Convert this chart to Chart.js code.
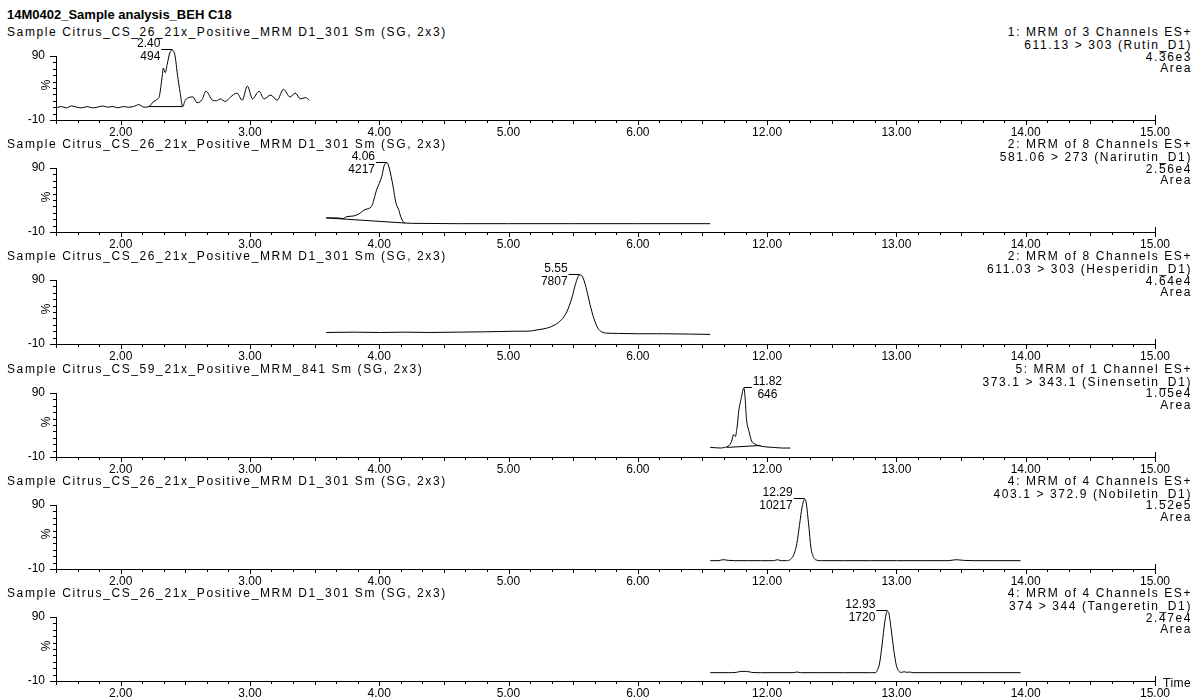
<!DOCTYPE html>
<html>
<head>
<meta charset="utf-8">
<script src="https://cdn.jsdelivr.net/npm/chart.js@4.4.1/dist/chart.umd.min.js"></script>
<style>
html, body { margin: 0; padding: 0; background: #fff; }
#page { position: relative; width: 1200px; height: 697px; overflow: hidden;
        font-family: "Liberation Sans", Arial, sans-serif; color: #000; }
.txt { position: absolute; white-space: nowrap; font-size: 12px; line-height: 12px; letter-spacing: 1.6px; }
.right { text-align: right; }
.title { position: absolute; left: 7px; top: 8px; font-size: 13px; line-height: 13px; font-weight: bold; white-space: nowrap; }
.panel { position: absolute; left: 0; width: 1200px; height: 124px; }
</style>
</head>
<body>
<div id="page"></div>
<script>
// Chromatogram traces, time in minutes, signal in %
const rutinTime = [1.50,1.54,1.58,1.62,1.66,1.70,1.74,1.78,1.82,1.86,1.90,1.94,1.98,2.02,2.06,2.10,2.14,2.18,2.22,
    2.25,2.28,2.30,2.32,2.33,2.345,2.36,2.38,2.40,2.42,2.44,2.46,2.48,
    2.50,2.56,2.59,2.63,2.66,2.71,2.74,2.77,2.81,2.85,2.90,2.94,2.98,3.02,3.07,3.11,3.16,3.21,3.26,3.31,3.35,3.39,3.43,3.46];
const rutinSignal = [9,11,9,12,10,9,11,9,10,12,10,11,9,11,10,11,14,10,11,
    18,22,28,56,71,64,77,95,99,91,60,33,11,
    21,26,17,22,35,21,20,23,19,26,32,21,43,23,35,23,29,21,38,26,32,23,25,21];
const rutinBaseTime = [2.22, 2.48];
const rutinBaseSignal = [11, 11];

const narirutinTime = [3.59,3.68,3.72,3.75,3.80,3.84,3.89,3.94,3.98,4.02,4.04,4.06,4.07,4.10,4.13,4.15,4.17,4.20,4.30,4.60,5.00,5.50,6.00,6.56];
const narirutinSignal = [12,12,11,14,15,18,25,30,56,77,95,98,95,69,35,25,12,4,3.5,3,3,3,3,3];
const narirutinBaseTime = [3.59, 4.20];
const narirutinBaseSignal = [12, 4];

const hesperidinTime = [3.59,3.80,4.00,4.20,4.40,4.60,4.80,4.95,5.05,5.15,5.22,5.30,5.36,5.41,5.45,5.49,5.52,5.55,5.57,5.60,5.63,5.66,5.69,5.72,5.76,5.85,6.00,6.20,6.40,6.56];
const hesperidinSignal = [8,8.5,8,8.5,8,8.5,9,9.5,10,10,12,15,20,28,40,62,85,98,96,78,52,30,15,9,7,6.5,6,6,5.5,5];
const hesperidinBaseTime = [];
const hesperidinBaseSignal = [];

const sinensetinTime = [11.56,11.60,11.64,11.67,11.69,11.72,11.73,11.74,11.755,11.765,11.77,11.78,11.80,11.82,11.83,11.84,11.86,11.88,11.90,11.93,11.98,12.05,12.12,12.18];
const sinensetinSignal = [5,4.5,4,5,6,12,18,25,22,33,40,61,82,98,82,50,30,15,11,8,6,5,4,4];
const sinensetinBaseTime = [11.69, 11.95];
const sinensetinBaseSignal = [5, 8];

const nobiletinTime = [11.56,11.62,11.66,11.70,11.75,11.85,11.95,12.05,12.08,12.11,12.15,12.18,12.21,12.23,12.25,12.27,12.29,12.30,12.32,12.34,12.36,12.38,12.42,12.60,12.80,13.00,13.20,13.40,13.46,13.52,13.60,13.80,13.96];
const nobiletinSignal = [3,3,4.5,3.5,3,3,3,3,4.5,3,3,5,14,30,58,86,99,96,62,22,8,4,3,3,3,3,3,3,4.5,3.5,3,3,3];

const tangeretinTime = [11.56,11.70,11.76,11.80,11.84,11.88,11.95,12.10,12.20,12.23,12.26,12.40,12.60,12.80,12.84,12.85,12.87,12.89,12.91,12.93,12.94,12.96,12.98,13.00,13.02,13.04,13.06,13.08,13.10,13.13,13.30,13.50,13.70,13.96];
const tangeretinSignal = [3,3,3.5,5,5,3.5,3,3,3,4,3,3,3,3,3,6,18,48,82,99,97,70,38,14,5,3.5,4.5,3.5,4,3,3,3,3,3];

const peakTimes = [2.40, 4.06, 5.55, 11.82, 12.29, 12.93];
const peakAreas = [494, 4217, 7807, 646, 10217, 1720];

const chartTitle = '14M0402_Sample analysis_BEH C18';
const sampleNames = [
    'Sample Citrus_CS_26_21x_Positive_MRM D1_301 Sm (SG, 2x3)',
    'Sample Citrus_CS_26_21x_Positive_MRM D1_301 Sm (SG, 2x3)',
    'Sample Citrus_CS_26_21x_Positive_MRM D1_301 Sm (SG, 2x3)',
    'Sample Citrus_CS_59_21x_Positive_MRM_841 Sm (SG, 2x3)',
    'Sample Citrus_CS_26_21x_Positive_MRM D1_301 Sm (SG, 2x3)',
    'Sample Citrus_CS_26_21x_Positive_MRM D1_301 Sm (SG, 2x3)'
];
const channelInfo = [
    ['1: MRM of 3 Channels ES+', '611.13 > 303 (Rutin_D1)', '4.36e3', 'Area'],
    ['2: MRM of 8 Channels ES+', '581.06 > 273 (Narirutin_D1)', '2.56e4', 'Area'],
    ['2: MRM of 8 Channels ES+', '611.03 > 303 (Hesperidin_D1)', '4.64e4', 'Area'],
    ['5: MRM of 1 Channel ES+', '373.1 > 343.1 (Sinensetin_D1)', '1.05e4', 'Area'],
    ['4: MRM of 4 Channels ES+', '403.1 > 372.9 (Nobiletin_D1)', '1.52e5', 'Area'],
    ['4: MRM of 4 Channels ES+', '374 > 344 (Tangeretin_D1)', '2.47e4', 'Area']
];
const xTickLabels = ['2.00', '3.00', '4.00', '5.00', '6.00', '12.00', '13.00', '14.00', '15.00'];

// the axis skips 7-11 min: later times are shifted left by 5
function axisPos(t) {
    return t > 9 ? t - 5 : t;
}

function points(times, values) {
    return times.map((t, i) => ({x: axisPos(t), y: values[i]}));
}

const FONT = '"Liberation Sans", Arial, sans-serif';

const traces = [
    [rutinTime, rutinSignal, rutinBaseTime, rutinBaseSignal],
    [narirutinTime, narirutinSignal, narirutinBaseTime, narirutinBaseSignal],
    [hesperidinTime, hesperidinSignal, hesperidinBaseTime, hesperidinBaseSignal],
    [sinensetinTime, sinensetinSignal, sinensetinBaseTime, sinensetinBaseSignal],
    [nobiletinTime, nobiletinSignal, [], []],
    [tangeretinTime, tangeretinSignal, [], []]
];
const labelSide = ['left', 'left', 'left', 'right', 'left', 'left'];

// ticks, % sign and peak labels
const decorPlugin = {
    id: 'decor',
    afterDraw(chart, args, opts) {
        const {ctx, chartArea: a, scales: {x, y}} = chart;
        ctx.save();
        ctx.strokeStyle = '#000';
        ctx.lineWidth = 1;
        ctx.beginPath();
        for (let k = 0; k <= 51; k++) {
            const px = Math.round(x.getPixelForValue(1.5 + k / 6)) + 0.5;
            const len = (k % 6 === 3) ? 5 : (k % 6 === 0 ? 4 : 3);
            ctx.moveTo(px, a.bottom);
            ctx.lineTo(px, a.bottom + len);
        }
        for (let v = -10; v <= 90; v += 10) {
            const py = Math.round(y.getPixelForValue(v)) + 0.5;
            const len = (v === -10 || v === 90) ? 6 : 3;
            ctx.moveTo(a.left, py);
            ctx.lineTo(a.left - len, py);
        }
        ctx.moveTo(Math.round(a.right) + 0.5, a.bottom);
        ctx.lineTo(Math.round(a.right) + 0.5, a.bottom - 5);
        ctx.stroke();

        ctx.fillStyle = '#000';
        ctx.font = '12px ' + FONT;
        ctx.textBaseline = 'middle';

        // rotated % sign
        ctx.save();
        ctx.translate(a.left - 9, y.getPixelForValue(45));
        ctx.rotate(-Math.PI / 2);
        ctx.textAlign = 'center';
        ctx.fillText('%', 0, 0);
        ctx.restore();

        const px = x.getPixelForValue(axisPos(opts.time));
        const py = Math.round(y.getPixelForValue(opts.height)) - 0.5;
        const tLabel = opts.time.toFixed(2);
        const aLabel = String(opts.area);
        ctx.beginPath();
        if (opts.side === 'left') {
            const tx = px - 12;
            ctx.textAlign = 'right';
            ctx.fillText(tLabel, tx, py - 6);
            ctx.fillText(aLabel, tx, py + 7);
            ctx.moveTo(tx + 1, py);
            ctx.lineTo(px, py);
        } else {
            const tx = px + 9;
            const w = ctx.measureText(tLabel).width;
            ctx.textAlign = 'left';
            ctx.fillText(tLabel, tx, py - 6);
            ctx.textAlign = 'center';
            ctx.fillText(aLabel, tx + w / 2, py + 7);
            ctx.moveTo(px, py);
            ctx.lineTo(tx - 1, py);
        }
        ctx.stroke();
        ctx.restore();
    }
};

const page = document.getElementById('page');

function addText(cls, text, css) {
    const d = document.createElement('div');
    d.className = cls;
    d.textContent = text;
    Object.assign(d.style, css);
    page.appendChild(d);
    return d;
}

addText('title', chartTitle, {});

traces.forEach((tr, i) => {
    const axisY = 120 + 112.2 * i;

    addText('txt', sampleNames[i], {left: '7px', top: (axisY - 94) + 'px'});
    const tops = [-94, -81, -69.5, -58];
    channelInfo[i].forEach((line, j) => {
        addText('txt right', line, {right: '8px', top: (axisY + tops[j]) + 'px'});
    });

    const wrap = document.createElement('div');
    wrap.className = 'panel';
    wrap.style.top = (axisY - 104) + 'px';
    const canvas = document.createElement('canvas');
    wrap.appendChild(canvas);
    page.appendChild(wrap);

    const [times, values, baseTimes, baseValues] = tr;
    new Chart(canvas, {
        type: 'line',
        data: {
            datasets: [{
                data: points(times, values),
                borderColor: '#000',
                borderWidth: 1,
                pointRadius: 0,
                cubicInterpolationMode: 'monotone',
                clip: false
            }, {
                data: points(baseTimes, baseValues),
                borderColor: '#000',
                borderWidth: 1,
                pointRadius: 0,
                tension: 0,
                clip: false
            }]
        },
        options: {
            responsive: true,
            maintainAspectRatio: false,
            animation: false,
            events: [],
            layout: {padding: {left: 0, right: 45, top: 40, bottom: 0}},
            plugins: {
                legend: {display: false},
                tooltip: {enabled: false},
                decor: {
                    time: peakTimes[i],
                    area: peakAreas[i],
                    height: Math.max(...values),
                    side: labelSide[i]
                }
            },
            scales: {
                x: {
                    type: 'linear',
                    min: 1.5,
                    max: 10,
                    grid: {display: false, drawTicks: false},
                    border: {color: '#000', width: 1},
                    afterFit: s => { s.height = 20; },
                    afterBuildTicks: s => { s.ticks = xTickLabels.map((_, k) => ({value: k + 2})); },
                    ticks: {
                        autoSkip: false,
                        maxRotation: 0,
                        padding: 5,
                        color: '#000',
                        font: {family: FONT, size: 12},
                        callback: v => xTickLabels[Math.round(v) - 2]
                    }
                },
                y: {
                    min: -10,
                    max: 90,
                    grid: {display: false, drawTicks: false},
                    border: {color: '#000', width: 1},
                    afterFit: s => { s.width = 56; },
                    afterBuildTicks: s => { s.ticks = [{value: -10}, {value: 90}]; },
                    ticks: {
                        autoSkip: false,
                        padding: 11,
                        color: '#000',
                        font: {family: FONT, size: 12},
                        callback: v => String(v)
                    }
                }
            }
        },
        plugins: [decorPlugin]
    });
});

addText('txt', 'Time', {left: '1163px', top: (120 + 112.2 * 5 - 4) + 'px', letterSpacing: '0.5px'});
</script>
</body>
</html>
